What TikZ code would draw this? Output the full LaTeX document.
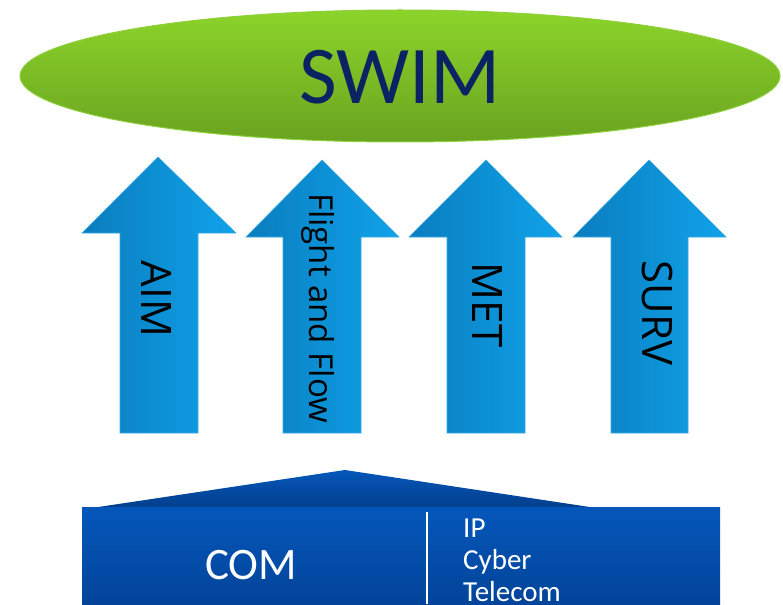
\documentclass[tikz,border=0pt]{standalone}
\usepackage{fontspec}
\setmainfont{Carlito}
\newfontfamily\arrowfont{Open Sans}
\usetikzlibrary{shapes.geometric}
\definecolor{gtop}{HTML}{8CD42A}
\definecolor{gbot}{HTML}{6AA320}
\definecolor{gedge}{HTML}{8DCF3C}
\definecolor{navy}{HTML}{0B2363}
\definecolor{aleft}{HTML}{0A7DBE}
\definecolor{aright}{HTML}{10A2EA}
\definecolor{aedge}{HTML}{3AA8E0}
\definecolor{btop}{HTML}{0457BA}
\definecolor{bbot}{HTML}{03449A}
\definecolor{rbot}{HTML}{033F8C}
\tikzset{
  uparrow/.style={left color=aleft, right color=aright, draw=aedge, line width=0.6pt},
  arrowlabel/.style={rotate=-90, font=\arrowfont\fontsize{42}{46}\selectfont, text=black, inner sep=0pt},
}
\begin{document}
\begin{tikzpicture}[x=1pt,y=-1pt]
\useasboundingbox (0,0) rectangle (783,604);
% SWIM ellipse
\node[ellipse, minimum width=760pt, minimum height=132pt, inner sep=0pt,
      top color=gtop, bottom color=gbot, draw=gedge, line width=1pt] (swim) at (400,76) {};
\node[text=navy, font=\fontsize{82}{90}\selectfont, inner sep=0pt] (swimtext) at (400,77) {SWIM};
% arrows
\shade[uparrow] (120,433) -- (120,233) -- (82,233) -- (158,157) -- (236,233) -- (198,233) -- (198,433) -- cycle;
\shade[uparrow] (283,433) -- (283,237) -- (246,237) -- (322,160) -- (399,237) -- (361,237) -- (361,433) -- cycle;
\shade[uparrow] (447,433) -- (447,237) -- (409,237) -- (486,160) -- (562,237) -- (525,237) -- (525,433) -- cycle;
\shade[uparrow] (611,433) -- (611,237) -- (573,237) -- (649,160) -- (726,237) -- (688,237) -- (688,433) -- cycle;
\node[arrowlabel] (aim) at (157,299) {AIM};
\node[arrowlabel, font=\arrowfont\fontsize{33}{38}\selectfont] (flow) at (318,308) {Flight and Flow};
\node[arrowlabel] (met) at (487,305) {MET};
\node[arrowlabel] (surv) at (657,313) {SURV};
% COM block
\shade[top color=btop, bottom color=rbot] (95,507.5) -- (345,470) -- (593,507.5) -- cycle;
\shade[top color=btop, bottom color=bbot] (82,507) rectangle (720,604);
\draw[white, line width=1.5pt] (427,512) -- (427,604);
\node[text=white, font=\fontsize{45}{50}\selectfont, inner sep=0pt] (com) at (251,565) {COM};
\node[text=white, font=\fontsize{29}{32}\selectfont, anchor=north west, align=left, inner sep=0pt] (ip) at (463,519) {IP\\Cyber\\Telecom};
\end{tikzpicture}
\end{document}
